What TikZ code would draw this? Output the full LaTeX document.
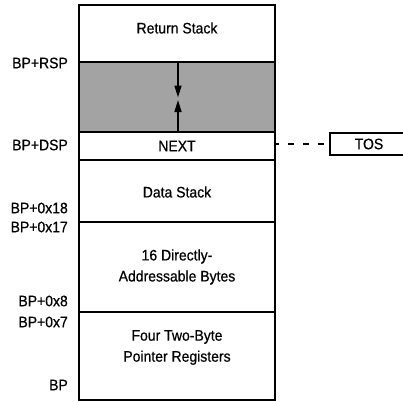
\documentclass[tikz,border=0pt]{standalone}
\usepackage{fontspec}
\setmainfont{Liberation Sans}[FakeStretch=0.92, FakeBold=0.6]
\usetikzlibrary{arrows.meta}
\begin{document}
\begin{tikzpicture}[x=1pt,y=-1pt,
  txt/.style={font=\fontsize{15.2}{21}\selectfont, align=center},
  cell/.style={draw, line width=1.5pt, minimum width=196pt, inner sep=0pt, txt},
  addr/.style={anchor=east, inner sep=0pt, font=\fontsize{15.2}{16}\selectfont},
  ptr/.style={line width=1.6pt, -{Triangle[length=12pt,width=7pt]}}]
\clip (0,0) rectangle (403,401);
\node[cell, minimum height=57pt] (ret) at (177,33.5) {};
\node[txt] (rettxt) at (177,28) {Return Stack};
\node[cell, minimum height=70pt, fill=black!36] (free) at (177,97) {};
\node[cell, minimum height=28pt] (next) at (177,146) {NEXT};
\node[cell, minimum height=62pt] (data) at (177,191) {};
\node[txt] (datatxt) at (177,192) {Data Stack};
\node[cell, minimum height=90pt] (bytes) at (177,267) {16 Directly-\\Addressable Bytes};
\node[cell, minimum height=88pt] (regs) at (177,356) {};
\node[txt] (regstxt) at (177,347.5) {Four Two-Byte\\Pointer Registers};
\coordinate (top) at (178,62);
\coordinate (bot) at (178,132);
\coordinate (mid1) at (178,97.5);
\coordinate (mid2) at (178,100);
\draw[ptr] (top) -- (mid1);
\draw[ptr] (bot) -- (mid2);
\node[draw, line width=1.5pt, minimum width=86pt, minimum height=22pt, inner sep=0pt] (tos) at (373,144) {};
\node[txt] (tostxt) at (369,144) {TOS};
\draw[line width=1.6pt, dash pattern=on 6pt off 9pt, dash phase=3pt] (next.east |- tos.west) -- (tos.west);
\node[addr] (rsp) at (68,63) {BP+RSP};
\node[addr] (dsp) at (68,145) {BP+DSP};
\node[addr] (a18) at (68,208) {BP+0x18};
\node[addr] (a17) at (68,227) {BP+0x17};
\node[addr] (a8) at (68,301) {BP+0x8};
\node[addr] (a7) at (68,322) {BP+0x7};
\node[addr] (bp) at (68,385) {BP};
\end{tikzpicture}
\end{document}
